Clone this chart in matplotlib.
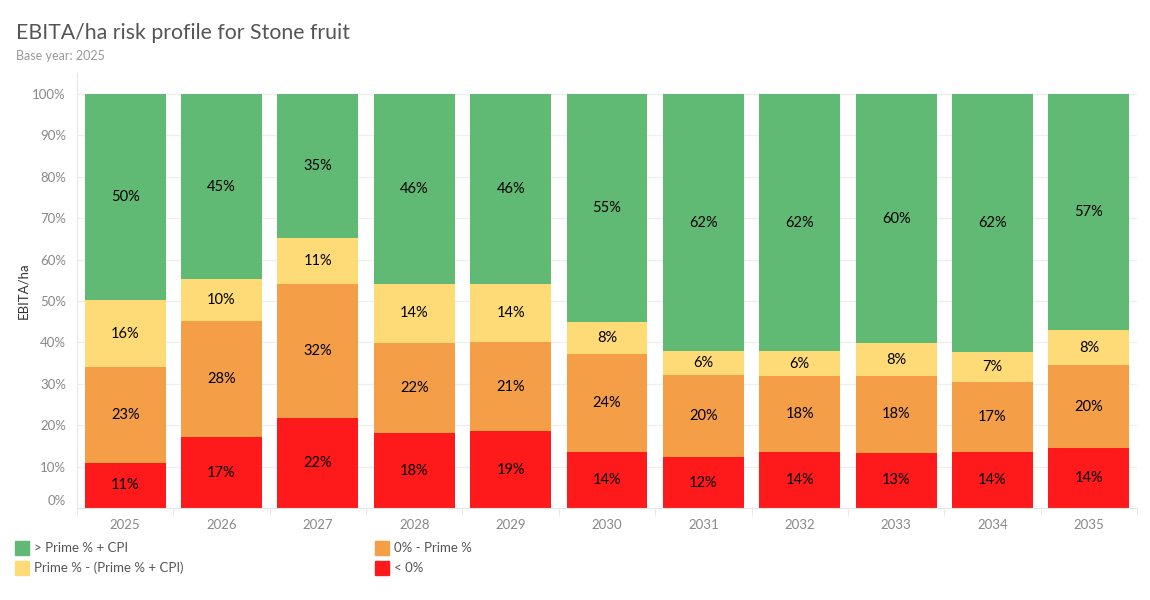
import matplotlib
matplotlib.use("Agg")
import matplotlib.pyplot as plt
import matplotlib.transforms as mtransforms
import numpy as np

plt.rcParams['font.family'] = ['Lato', 'DejaVu Sans']

years = ["2025", "2026", "2027", "2028", "2029", "2030", "2031", "2032", "2033", "2034", "2035"]
below_zero = [10.9, 17.1, 21.7, 18.1, 18.6, 13.5, 12.3, 13.5, 13.4, 13.5, 14.4]
zero_prime = [23.2, 28.1, 32.4, 21.8, 21.4, 23.7, 19.8, 18.4, 18.4, 16.9, 20.1]
prime_cpi = [16.1, 10.1, 11.1, 14.2, 14.1, 7.7, 5.8, 6.0, 8.0, 7.4, 8.5]
above_cpi = [49.8, 44.7, 34.8, 45.9, 45.9, 55.1, 62.1, 62.1, 60.2, 62.2, 57.0]

series = [
    ("< 0%", below_zero, "#FE1A1A"),
    ("0% - Prime %", zero_prime, "#F49E47"),
    ("Prime % - (Prime % + CPI)", prime_cpi, "#FEDB77"),
    ("> Prime % + CPI", above_cpi, "#61BA74"),
]
yticks = [0, 10, 20, 30, 40, 50, 60, 70, 80, 90, 100]

fig = plt.figure(figsize=(11.5, 6), dpi=100)
ax = fig.add_axes([77/1150, 1 - 508/600, (1137 - 77)/1150, (508 - 73)/600])

x = np.arange(len(years))
bottom = np.zeros(len(years))
for name, vals, col in series:
    vals = np.array(vals)
    ax.bar(x, vals, bottom=bottom, width=0.84, color=col, zorder=2, linewidth=0)
    for xi, b, v in zip(x, bottom, vals):
        ax.text(xi, b + v / 2, f"{round(v):.0f}%", ha="center", va="center",
                fontsize=10.5, color="black", zorder=3)
    bottom += vals

ax.set_xlim(-0.49, len(years) - 0.51)
ax.set_ylim(0, 105.1)
ax.set_yticks(yticks)
ax.set_yticklabels([f"{t}%" for t in yticks])
ax.yaxis.grid(True, color="#EEEEEE", linewidth=0.9, zorder=0)
ax.set_axisbelow(True)

ax.set_xticks(x)
ax.set_xticklabels(years)
ax.tick_params(axis="x", length=0, pad=8, labelsize=9.5, labelcolor="#888888")
ax.tick_params(axis="y", length=0, pad=8, labelsize=9.5, labelcolor="#888888")
lbl0 = ax.get_yticklabels()[0]
lbl0.set_transform(lbl0.get_transform() + mtransforms.ScaledTranslation(0, 8/100, fig.dpi_scale_trans))

for s in ["top", "right"]:
    ax.spines[s].set_visible(False)
ax.spines["left"].set_color("#E6E6E6")
ax.spines["bottom"].set_color("#E6E6E6")
ax.set_xticks(np.arange(len(years) + 1) - 0.5, minor=True)
ax.tick_params(axis="x", which="minor", length=6, color="#E6E6E6")

ax.set_ylabel("EBITA/ha", fontsize=9.5, color="#333333", labelpad=2)

fig.text(16/1150, 1 - 33/600, "EBITA/ha risk profile for Stone fruit", fontsize=15.3,
         color="#555555", va="center", ha="left")
fig.text(16/1150, 1 - 56/600, "Base year: 2025", fontsize=9, color="#999999",
         va="center", ha="left")

legend_items = [
    (15, 548, "> Prime % + CPI", "#61BA74"),
    (15, 568, "Prime % - (Prime % + CPI)", "#FEDB77"),
    (375, 548, "0% - Prime %", "#F49E47"),
    (375, 568, "< 0%", "#FE1A1A"),
]
for lx, ly, txt, col in legend_items:
    fig.patches.append(plt.Rectangle((lx/1150, 1 - (ly + 7)/600), 14/1150, 14/600,
                                     transform=fig.transFigure, color=col, figure=fig))
    fig.text((lx + 19)/1150, 1 - ly/600, txt, fontsize=9.5, color="#555555",
             va="center", ha="left")

fig.savefig("out.png", dpi=100)
